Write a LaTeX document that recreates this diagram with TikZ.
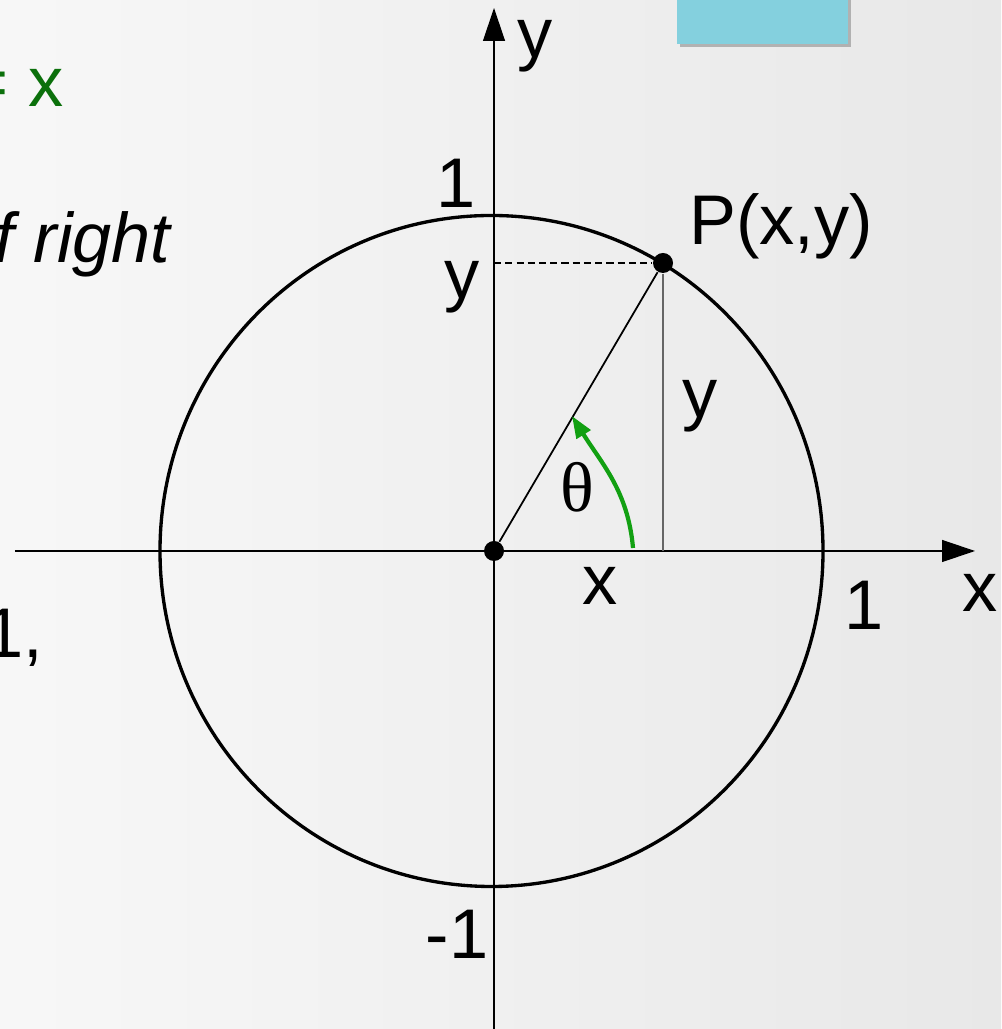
\documentclass[tikz,border=0pt]{standalone}
\usepackage{fontspec}
\setmainfont{Liberation Sans}
\newfontfamily\thetafont{Liberation Serif}
\usetikzlibrary{arrows.meta}
\definecolor{slidegreen}{HTML}{0B700B}
\definecolor{arcgreen}{HTML}{12A012}
\definecolor{boxcyan}{HTML}{84D0DE}
\tikzset{
  lbl/.style={anchor=base, inner sep=0pt, font=\fontsize{20}{24}\selectfont},
  dot/.style={circle, fill=black, inner sep=0pt, minimum size=0.2cm},
  axis/.style={line width=0.35pt, -{Triangle[length=0.33cm, width=0.22cm]}}
}
\begin{document}
\begin{tikzpicture}
  \useasboundingbox (-4.94,-4.78) rectangle (5.07,5.51);
  \clip (-4.94,-4.78) rectangle (5.07,5.51);
  \shade[left color=black!3, right color=black!9] (-4.94,-4.78) rectangle (5.07,5.51);
  % box cut off at the top
  \fill[black!45, opacity=0.6] (1.86,5.04) rectangle (3.57,5.8);
  \fill[boxcyan] (1.83,5.07) rectangle (3.54,5.8);
  % cut-off text on the left
  \node[lbl, anchor=base west, text=slidegreen] (eqx) at (-5.27,4.44) {= x};
  \node[lbl, anchor=base west] (right) at (-5.00,2.88) {\itshape f right};
  \node[lbl, anchor=base west] (one) at (-5.10,-1.07) {1,};
  % axes and circle
  \coordinate (xs) at (-4.79,0);
  \coordinate (xe) at (4.81,0);
  \coordinate (ys) at (0,-4.9);
  \coordinate (ye) at (0,5.43);
  \draw[axis] (xs) -- (xe);
  \draw[axis] (ys) -- (ye);
  \draw[line width=0.95pt] (-0.025,0) ellipse [x radius=3.315, y radius=3.355];
  \node[dot] (O) at (0,0) {};
  \node[dot] (P) at (1.69,2.88) {};
  \coordinate (Py) at (0,0 |- P);
  \coordinate (Px) at (P |- 0,0);
  \draw[dashed, line width=0.3pt, dash pattern=on 2pt off 1.2pt] (Py) -- (P);
  \draw[black!60, line width=0.5pt] (P) -- (Px);
  \draw[line width=0.5pt] (O) -- (P);
  \coordinate (as) at (1.39,0.03);
  \coordinate (ae) at (0.78,1.35);
  \draw[arcgreen, line width=1.2pt, -{Triangle[length=0.22cm, width=0.16cm]}]
    (as) to[out=95, in=-58] (ae);
  % labels
  \node[lbl] (ytop) at (0.41,4.93) {y};
  \node[lbl] (onetop) at (-0.38,3.43) {1};
  \node[lbl] (yleft) at (-0.32,2.52) {y};
  \node[lbl] (pl) at (2.87,3.06) {P(x,y)};
  \node[lbl] (yright) at (2.06,1.33) {y};
  \node[lbl] (th) at (0.83,0.39) {\thetafont θ};
  \node[lbl] (xlow) at (1.06,-0.54) {x};
  \node[lbl] (oneright) at (3.70,-0.79) {1};
  \node[lbl] (xaxis) at (4.86,-0.61) {x};
  \node[lbl] (mone) at (-0.37,-4.07) {-1};
\end{tikzpicture}
\end{document}
